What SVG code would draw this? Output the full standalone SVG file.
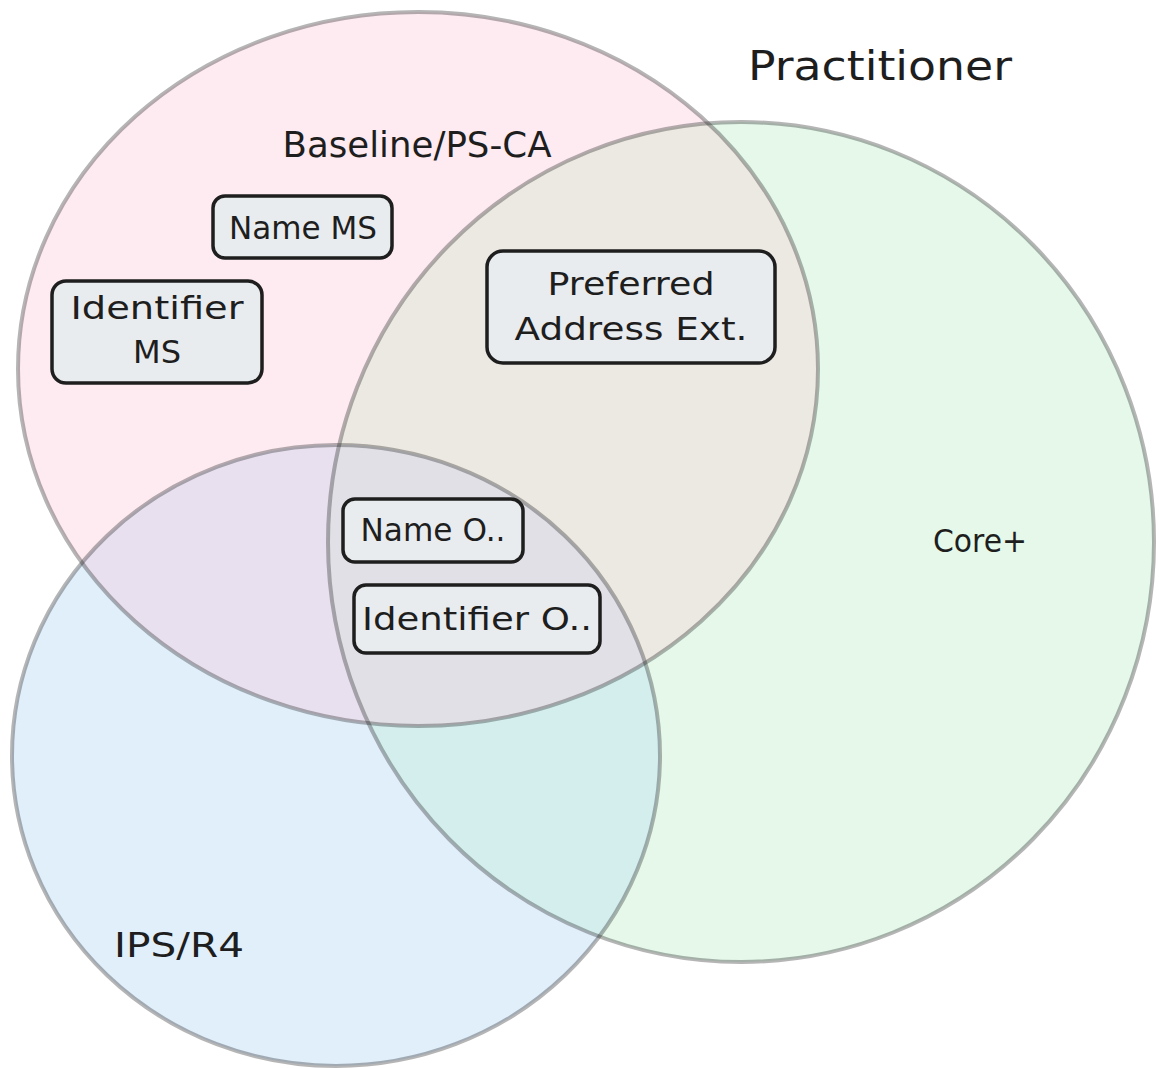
<svg xmlns="http://www.w3.org/2000/svg" width="1159" height="1068" viewBox="0 0 1159 1068">
  <style>
    .label { font-family: "DejaVu Sans", "Liberation Sans", sans-serif; fill: #1e1e1e; text-anchor: middle; }
    .set { fill: none; stroke: #1e1e1e; stroke-opacity: 0.33; stroke-width: 4; }
    .box { fill: #e9ecef; stroke: #1e1e1e; stroke-width: 3.5; }
    .boxtext { font-family: "DejaVu Sans", "Liberation Sans", sans-serif; font-size: 32px; fill: #1e1e1e; text-anchor: middle; }
  </style>
  <defs>
    <clipPath id="clipPink"><ellipse cx="418" cy="369" rx="400" ry="357"/></clipPath>
    <clipPath id="clipGreen"><ellipse cx="741" cy="542" rx="413" ry="420"/></clipPath>
  </defs>
  <rect width="1159" height="1068" fill="#ffffff"/>

  <g id="regions">
    <ellipse cx="418" cy="369" rx="400" ry="357" fill="#fdebf1"/>
    <ellipse cx="741" cy="542" rx="413" ry="420" fill="#e5f8ea"/>
    <ellipse cx="336" cy="755.5" rx="324" ry="310.5" fill="#e1effb"/>
    <ellipse cx="741" cy="542" rx="413" ry="420" fill="#ece8e2" clip-path="url(#clipPink)"/>
    <ellipse cx="336" cy="755.5" rx="324" ry="310.5" fill="#e8e0ef" clip-path="url(#clipPink)"/>
    <ellipse cx="336" cy="755.5" rx="324" ry="310.5" fill="#d4eeee" clip-path="url(#clipGreen)"/>
    <g clip-path="url(#clipPink)">
      <ellipse cx="336" cy="755.5" rx="324" ry="310.5" fill="#e1e0e6" clip-path="url(#clipGreen)"/>
    </g>
  </g>

  <g id="set-baseline">
    <ellipse class="set" cx="418" cy="369" rx="400" ry="357"/>
    <text class="label" x="417" y="157" font-size="35" textLength="269" lengthAdjust="spacingAndGlyphs">Baseline/PS-CA</text>
  </g>
  <g id="set-core">
    <ellipse class="set" cx="741" cy="542" rx="413" ry="420"/>
    <text class="label" x="980" y="552" font-size="32" textLength="94" lengthAdjust="spacingAndGlyphs">Core+</text>
  </g>
  <g id="set-ips">
    <ellipse class="set" cx="336" cy="755.5" rx="324" ry="310.5"/>
    <text class="label" x="179" y="957" font-size="33" textLength="130" lengthAdjust="spacingAndGlyphs">IPS/R4</text>
  </g>

  <g id="title">
    <text class="label" x="880" y="80" font-size="40" textLength="264" lengthAdjust="spacingAndGlyphs">Practitioner</text>
  </g>

  <g id="node-name-ms">
    <rect class="box" x="213" y="196" width="179" height="62" rx="12"/>
    <text class="boxtext" x="303" y="239" textLength="148" lengthAdjust="spacingAndGlyphs">Name MS</text>
  </g>
  <g id="node-identifier-ms">
    <rect class="box" x="52" y="281" width="210" height="102" rx="14"/>
    <text class="boxtext" x="157" y="319" textLength="173" lengthAdjust="spacingAndGlyphs">Identifier</text>
    <text class="boxtext" x="157" y="363" textLength="48" lengthAdjust="spacingAndGlyphs">MS</text>
  </g>
  <g id="node-preferred-address">
    <rect class="box" x="487" y="251" width="288" height="112" rx="16"/>
    <text class="boxtext" x="631" y="295" textLength="167" lengthAdjust="spacingAndGlyphs">Preferred</text>
    <text class="boxtext" x="631" y="340" textLength="233" lengthAdjust="spacingAndGlyphs">Address Ext.</text>
  </g>
  <g id="node-name-o">
    <rect class="box" x="343" y="499" width="180" height="63" rx="12"/>
    <text class="boxtext" x="433" y="541" textLength="145" lengthAdjust="spacingAndGlyphs">Name O..</text>
  </g>
  <g id="node-identifier-o">
    <rect class="box" x="354" y="585" width="246" height="68" rx="12"/>
    <text class="boxtext" x="477" y="630" textLength="230" lengthAdjust="spacingAndGlyphs">Identifier O..</text>
  </g>

  <g id="connectors"/>
</svg>
